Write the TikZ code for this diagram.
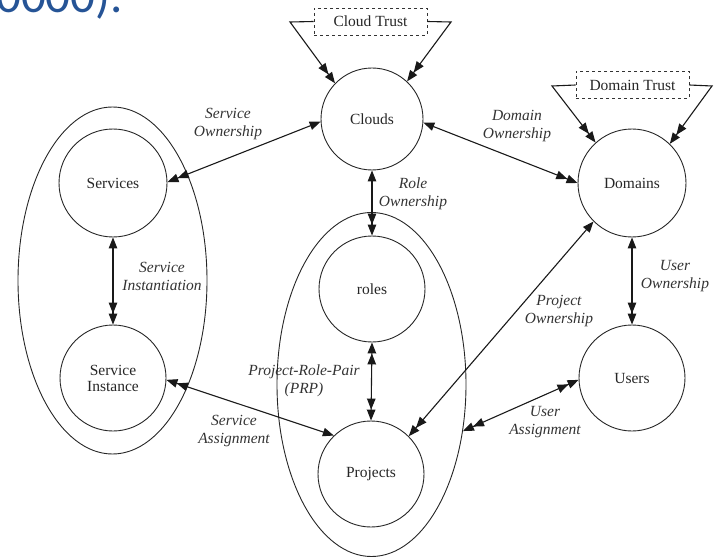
\documentclass[tikz,border=0pt]{standalone}
\usepackage{fontspec}
\setmainfont{Liberation Serif}
\newfontfamily\diagserif{Liberation Serif}
\newfontfamily\blueheadfont{Carlito}
\usetikzlibrary{arrows.meta,shapes.geometric}
\definecolor{headblue}{RGB}{38,84,150}
\tikzset{
  sgl/.tip={Triangle[length=11pt,width=8.5pt]},
  dbl/.tip={Triangle[length=11pt,width=8.5pt]Triangle[length=11pt,width=8.5pt]}
}
\begin{document}
\begin{tikzpicture}[x=1pt,y=-1pt,
  ent/.style={circle,draw=black!85,line width=0.9pt,inner sep=0pt,minimum size=#1,
    font=\diagserif\fontsize{15.5}{17}\selectfont,text=black!85,align=center},
  grp/.style={ellipse,draw=black!85,line width=0.9pt,inner sep=0pt},
  trustbox/.style={draw=black!80,dashed,line width=0.9pt,inner sep=0pt,
    minimum width=113pt,minimum height=27pt,font=\diagserif\fontsize{15.5}{17}\selectfont,text=black!85},
  lbl/.style={font=\diagserif\fontsize{15.5}{18}\selectfont\itshape,text=black!80,align=center},
  conn/.style={line width=1.1pt,draw=black!90}
]
\useasboundingbox (0,0) rectangle (718,559);

% clipped heading fragment
\begin{scope}
  \clip (0,0) rectangle (140,20);
  \node[anchor=base west,inner sep=0pt,text=headblue,font=\blueheadfont\fontsize{49}{55}\selectfont] (head) at (-4,13) {0000).};
\end{scope}

% groups
\node[grp,minimum width=189pt,minimum height=347pt] (grpL) at (112.5,280.5) {};
\node[grp,minimum width=189pt,minimum height=344pt] (grpM) at (371.5,384.5) {};

% entities
\node[ent=102pt] (clouds) at (372,119) {Clouds};
\node[ent=108pt] (domains) at (632,183) {Domains};
\node[ent=106pt] (users) at (632,378) {Users};
\node[ent=108pt] (services) at (113,183) {Services};
\node[ent=106pt] (sinst) at (113,378) {Service\\[-1pt]Instance};
\node[ent=106pt] (roles) at (372,289) {roles};
\node[ent=106pt] (projects) at (371,474) {Projects};

% trust boxes
\node[trustbox] (ct) at (370.5,21.5) {Cloud Trust};
\node[trustbox] (dt) at (632.5,85) {Domain Trust};
\coordinate (ctl) at (290,22);
\coordinate (ctr) at (451,22);
\coordinate (dtl) at (552,86);
\coordinate (dtr) at (712,86);

\draw[conn,-{dbl}] (ct.west) -- (ctl) -- (clouds.136);
\draw[conn,-{dbl}] (ct.east) -- (ctr) -- (clouds.47);
\draw[conn,-{dbl}] (dt.west) -- (dtl) -- (domains.132);
\draw[conn,-{dbl}] (dt.east) -- (dtr) -- (domains.46);

% connectors
\draw[conn,{sgl}-{dbl}] (clouds.183) -- (services.1);
\draw[conn,{sgl}-{dbl}] (clouds.-4) -- (domains.180);
\draw[conn,{sgl}-{dbl}] (clouds.south) -- (roles.north);
\draw[conn,{sgl}-{dbl}] (services.south) -- (sinst.north);
\draw[conn,{dbl}-{sgl}] (sinst.-2) -- (projects.134);
\draw[conn,{dbl}-{dbl}] (roles.south) -- (projects.north);
\draw[conn,{sgl}-{dbl}] (domains.225) -- (projects.45);
\draw[conn,{sgl}-{dbl}] (domains.south) -- (users.north);
\draw[conn,{dbl}-{dbl}] (users.182) -- (grpM.-27);

% labels
\node[lbl] (l1) at (228,124) {Service\\Ownership};
\node[lbl] (l2) at (517,126) {Domain\\Ownership};
\node[lbl] (l3) at (413,194) {Role\\Ownership};
\node[lbl] (l4) at (162,276.5) {Service\\Instantiation};
\node[lbl] (l5) at (234,431.5) {Service\\Assignment};
\node[lbl] (l6) at (304,380.5) {Project-Role-Pair\\(PRP)};
\node[lbl] (l7) at (559,311) {Project\\Ownership};
\node[lbl] (l8) at (675,276.5) {User\\Ownership};
\node[lbl] (l9) at (545,422.5) {User\\Assignment};
\end{tikzpicture}
\end{document}
